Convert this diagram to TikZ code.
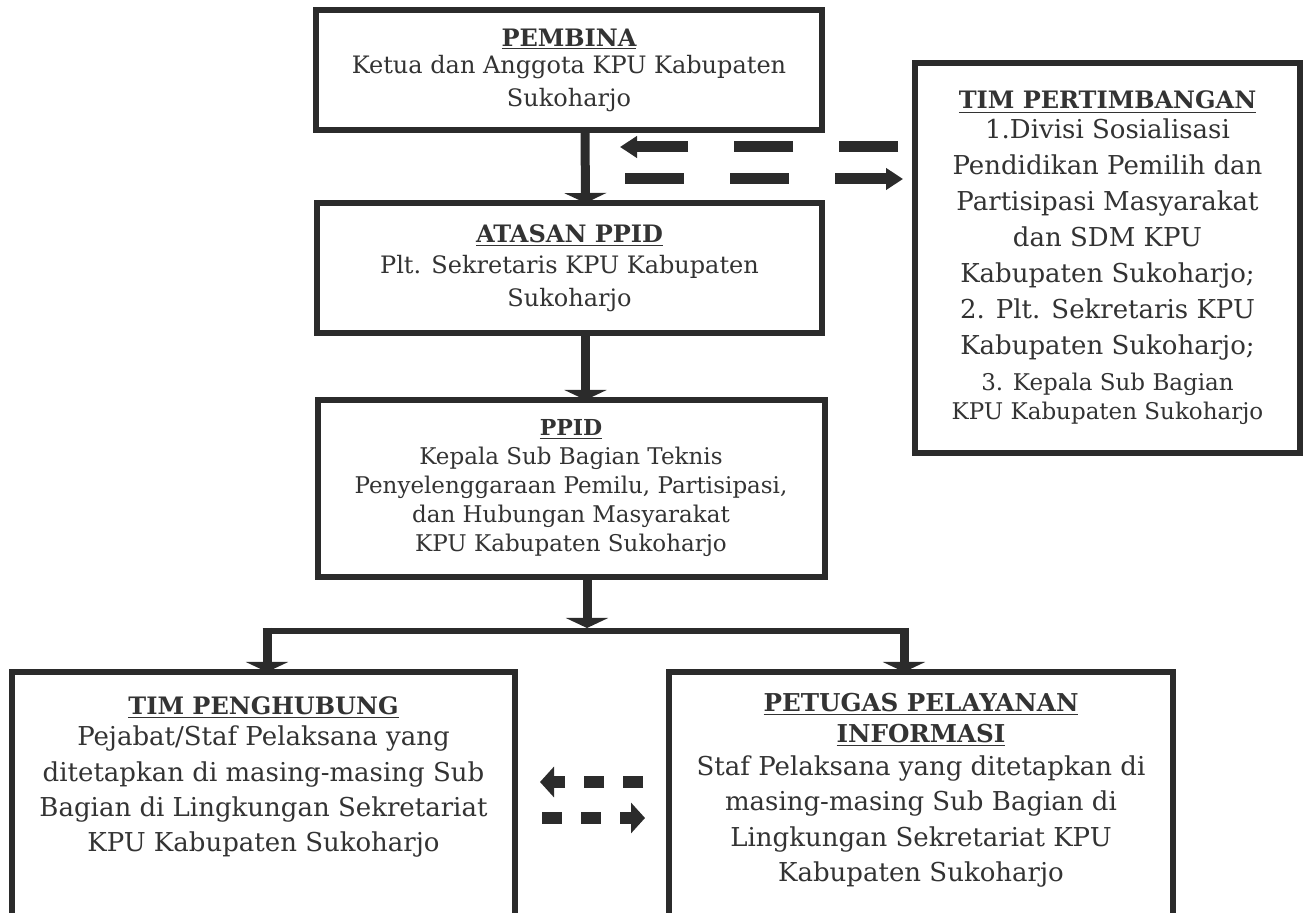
\documentclass[tikz,border=0pt]{standalone}
\usepackage{fontspec}
\setmainfont{DejaVu Serif}
\usetikzlibrary{arrows.meta}
\definecolor{ink}{gray}{0.17}
\definecolor{txt}{gray}{0.2}
\newcommand{\hdr}[1]{\textbf{\underline{#1}}}
\newcommand{\bodyL}{\fontsize{12}{16.5}\selectfont}
\newcommand{\bodyM}{\fontsize{11.5}{14.5}\selectfont}
\newcommand{\bodyT}{\fontsize{13}{18}\selectfont}
\newcommand{\bodyB}{\fontsize{13}{17.6}\selectfont}
\newcommand{\hdT}{\fontsize{12}{18}\selectfont}
\newcommand{\hdB}{\fontsize{12.3}{17.6}\selectfont}
\begin{document}
\begin{tikzpicture}[x=0.5pt,y=-0.5pt,
  box/.style={draw=ink, line width=3pt, rectangle, inner sep=0pt, outer sep=0pt},
  txtnode/.style={align=center, text=txt, inner sep=0pt},
  down/.style={draw=ink, line width=4.5pt, -{Triangle[width=21pt,length=5pt]}},
  hline/.style={draw=ink, line width=3pt},
  bigdash/.style={draw=ink, line width=5.5pt, dash pattern=on 29.5pt off 23pt, -{Triangle[width=10.5pt,length=8.5pt]}},
  smalldash/.style={draw=ink, line width=6pt, dash pattern=on 10pt off 9.5pt, -{Triangle[width=15pt,length=7pt]}}]
\useasboundingbox (0,0) rectangle (1306,913);
\clip (0,0) rectangle (1306,913);
\fill[white] (0,0) rectangle (1306,913);

% boxes
\node[box, txtnode, minimum width=253pt, minimum height=60pt, font=\bodyL] (pemb) at (569,70)
  {\hdr{PEMBINA}\\[-3pt] Ketua dan Anggota KPU Kabupaten\\ Sukoharjo};
\node[box, txtnode, minimum width=252.5pt, minimum height=65pt, font=\bodyL] (atasan) at (569.5,268)
  {\hdr{ATASAN PPID}\\[-1pt] Plt. Sekretaris KPU Kabupaten\\ Sukoharjo};
\node[box, txtnode, minimum width=253.5pt, minimum height=88.5pt, font=\bodyM] (ppid) at (571,488.5)
  {{\fontsize{11}{14.5}\selectfont\hdr{PPID}}\\ Kepala Sub Bagian Teknis\\ Penyelenggaraan Pemilu, Partisipasi,\\ dan Hubungan Masyarakat\\ KPU Kabupaten Sukoharjo};
\node[box, txtnode, minimum width=192.5pt, minimum height=195pt, font=\bodyT] (tp) at (1107.5,258)
  {{\hdT\hdr{TIM PERTIMBANGAN}}\\[-3pt] 1.Divisi Sosialisasi\\ Pendidikan Pemilih dan\\ Partisipasi Masyarakat\\ dan SDM KPU\\ Kabupaten Sukoharjo;\\ 2. Plt. Sekretaris KPU\\ Kabupaten Sukoharjo;\\ {\bodyM 3. Kepala Sub Bagian}\\[-3.5pt] {\bodyM KPU Kabupaten Sukoharjo}};
\node[box, minimum width=251.5pt, minimum height=126.5pt] (tph) at (263.5,798.5) {};
\node[txtnode, font=\bodyB] (tphtext) at (263.5,777)
  {{\hdT\hdr{TIM PENGHUBUNG}}\\[-2pt] Pejabat/Staf Pelaksana yang\\ ditetapkan di masing-masing Sub\\ Bagian di Lingkungan Sekretariat\\ KPU Kabupaten Sukoharjo};
\node[box, minimum width=252pt, minimum height=126.5pt] (pet) at (921,798.5) {};
\node[txtnode, font=\bodyB] (pettext) at (921,790)
  {{\hdB\hdr{PETUGAS PELAYANAN}}\\[-2pt] {\hdB\hdr{INFORMASI}}\\[-1pt] Staf Pelaksana yang ditetapkan di\\ masing-masing Sub Bagian di\\ Lingkungan Sekretariat KPU\\ Kabupaten Sukoharjo};

% vertical flow
\draw[down] ([xshift=8pt]pemb.south) -- ([xshift=8pt]atasan.north);
\draw[down] ([xshift=8pt]atasan.south) -- ([xshift=8pt]atasan.south |- ppid.north);
\coordinate (hm) at (587,631);
\coordinate (hl) at (267,631);
\coordinate (hr) at (904,631);
\draw[down] ([xshift=8pt]ppid.south) -- ([yshift=1.5pt]hm);
\draw[hline] ([xshift=-2.25pt]hl) -- ([xshift=2.25pt]hr);
\draw[down] ([yshift=1.5pt]hl) -- (hl |- tph.north);
\draw[down] ([yshift=1.5pt]hr) -- (hr |- pet.north);

% dashed two-way arrows with TIM PERTIMBANGAN
\coordinate (a1s) at (898,147);
\coordinate (a1e) at (620,147);
\coordinate (a2s) at (625,179);
\coordinate (a2e) at (903,179);
\draw[bigdash] (a1s) -- (a1e);
\draw[bigdash] (a2s) -- (a2e);

% dashed two-way arrows between bottom boxes
\coordinate (b1s) at (643,782);
\coordinate (b1e) at (540,782);
\coordinate (b2s) at (542,818);
\coordinate (b2e) at (645,818);
\draw[smalldash] (b1s) -- (b1e);
\draw[smalldash] (b2s) -- (b2e);
\end{tikzpicture}
\end{document}
